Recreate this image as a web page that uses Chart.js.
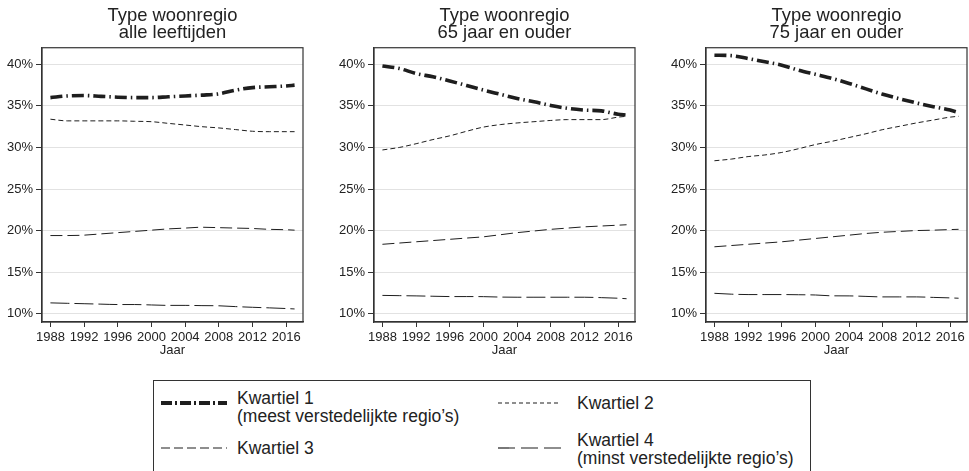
<!DOCTYPE html>
<html lang="nl">
<head>
<meta charset="UTF-8">
<title>Type woonregio</title>
<style>
    body { margin: 0; background: #fff; font-family: "Liberation Sans", Arial, sans-serif; color: #222; }
    #wrap { position: relative; width: 969px; height: 471px; overflow: hidden; }
    canvas { position: absolute; top: 0; }
    #legendBox { position: absolute; left: 153px; top: 380px; width: 658px; height: 110px; border: 1.2px solid #333; box-sizing: border-box; }
    .item { position: absolute; font-size: 17.5px; line-height: 18px; white-space: nowrap; color: #222; }
    .sample { position: absolute; }
</style>
</head>
<body>
<div id="wrap">
    <canvas id="c1" width="305" height="357" style="left:0px"></canvas>
    <canvas id="c2" width="305" height="357" style="left:332px"></canvas>
    <canvas id="c3" width="305" height="357" style="left:664px"></canvas>
    <div id="legendBox"></div>
</div>

<script src="https://cdn.jsdelivr.net/npm/chart.js"></script>
<script>
    // jaren en ticks
    const years = [1988, 1990, 1992, 1994, 1996, 1998, 2000, 2002, 2004, 2006, 2008, 2010, 2012, 2014, 2016, 2017];
    const xTicks = [1988, 1992, 1996, 2000, 2004, 2008, 2012, 2016];
    const yTicks = [10, 15, 20, 25, 30, 35, 40];

    const titles = [
        ['Type woonregio', 'alle leeftijden'],
        ['Type woonregio', '65 jaar en ouder'],
        ['Type woonregio', '75 jaar en ouder'],
    ];
    const xTitle = 'Jaar';

    const seriesNames = [
        ['Kwartiel 1', '(meest verstedelijkte regio’s)'],
        ['Kwartiel 2'],
        ['Kwartiel 3'],
        ['Kwartiel 4', '(minst verstedelijkte regio’s)'],
    ];

    // alle leeftijden
    const alleK1 = [36.0, 36.2, 36.25, 36.15, 36.05, 36.0, 36.0, 36.1, 36.2, 36.3, 36.45, 36.9, 37.2, 37.3, 37.4, 37.5];
    const alleK2 = [33.4, 33.2, 33.2, 33.2, 33.2, 33.15, 33.1, 32.9, 32.7, 32.5, 32.35, 32.15, 31.95, 31.9, 31.9, 31.9];
    const alleK3 = [19.4, 19.4, 19.45, 19.6, 19.75, 19.9, 20.05, 20.2, 20.3, 20.4, 20.35, 20.3, 20.25, 20.15, 20.1, 20.05];
    const alleK4 = [11.3, 11.25, 11.2, 11.15, 11.1, 11.1, 11.05, 11.0, 11.0, 10.97, 10.95, 10.85, 10.77, 10.7, 10.62, 10.57];

    // 65 jaar en ouder
    const o65K1 = [39.8, 39.5, 38.9, 38.5, 38.0, 37.45, 36.9, 36.4, 35.9, 35.5, 35.05, 34.7, 34.5, 34.4, 34.0, 33.9];
    const o65K2 = [29.7, 30.0, 30.45, 30.95, 31.4, 31.95, 32.45, 32.75, 32.95, 33.1, 33.25, 33.35, 33.35, 33.35, 33.65, 33.75];
    const o65K3 = [18.35, 18.5, 18.65, 18.8, 18.95, 19.1, 19.25, 19.5, 19.75, 19.95, 20.15, 20.3, 20.45, 20.55, 20.65, 20.7];
    const o65K4 = [12.2, 12.17, 12.14, 12.1, 12.06, 12.06, 12.05, 12.0, 11.98, 11.98, 11.98, 11.98, 11.98, 11.93, 11.86, 11.8];

    // 75 jaar en ouder
    const o75K1 = [41.1, 41.05, 40.7, 40.3, 39.9, 39.3, 38.8, 38.3, 37.7, 37.05, 36.4, 35.85, 35.35, 34.9, 34.5, 34.2];
    const o75K2 = [28.4, 28.6, 28.9, 29.1, 29.4, 29.85, 30.35, 30.75, 31.2, 31.65, 32.15, 32.55, 32.95, 33.3, 33.65, 33.75];
    const o75K3 = [18.05, 18.2, 18.35, 18.5, 18.65, 18.85, 19.05, 19.25, 19.45, 19.65, 19.8, 19.9, 20.0, 20.05, 20.12, 20.15];
    const o75K4 = [12.45, 12.35, 12.3, 12.3, 12.3, 12.28, 12.25, 12.15, 12.14, 12.08, 12.02, 12.02, 12.02, 11.96, 11.9, 11.86];

    const panels = [
        [alleK1, alleK2, alleK3, alleK4],
        [o65K1, o65K2, o65K3, o65K4],
        [o75K1, o75K2, o75K3, o75K4],
    ];

    // lijnstijlen
    const ink = '#1e1e1e';
    const lineStyles = [
        { width: 3.6, dash: [12, 4, 1.5, 4] },
        { width: 1, dash: [5, 3] },
        { width: 1, dash: [12, 5] },
        { width: 1, dash: [19, 5] },
    ];
    const legendStyles = [
        { width: 4, dash: [11, 3, 2, 3] },
        { width: 1.2, dash: [4, 3] },
        { width: 1.2, dash: [9, 4] },
        { width: 1.2, dash: [17, 6] },
    ];

    const framePlugin = {
        id: 'frame',
        afterDraw(chart) {
            const { ctx, chartArea: a } = chart;
            ctx.save();
            ctx.strokeStyle = '#333';
            ctx.lineWidth = 1.2;
            ctx.strokeRect(a.left, a.top, a.right - a.left, a.bottom - a.top);
            ctx.restore();
        }
    };

    const tickFont = { family: '"Liberation Sans", Arial, sans-serif', size: 13, lineHeight: 1 };

    panels.forEach((series, p) => {
        const datasets = series.map((vals, i) => ({
            label: seriesNames[i].join(' '),
            data: vals.map((v, j) => ({ x: years[j], y: v })),
            borderColor: ink,
            borderWidth: lineStyles[i].width,
            borderDash: lineStyles[i].dash,
            pointRadius: 0,
            cubicInterpolationMode: 'monotone',
            fill: false,
        }));

        new Chart(document.getElementById('c' + (p + 1)), {
            type: 'line',
            data: { datasets: datasets },
            options: {
                responsive: false,
                animation: false,
                events: [],
                layout: { padding: { left: 0, right: 2, top: 0, bottom: 0 } },
                scales: {
                    x: {
                        type: 'linear',
                        min: 1987,
                        max: 2018,
                        afterBuildTicks: s => { s.ticks = xTicks.map(v => ({ value: v })); },
                        afterFit: s => { s.height = 35; },
                        grid: { drawOnChartArea: false, drawTicks: true, tickLength: 5, tickColor: '#333', color: '#333' },
                        border: { display: true, color: '#333', width: 1.2 },
                        ticks: {
                            color: '#222',
                            font: tickFont,
                            padding: 4,
                            maxRotation: 0,
                            autoSkip: false,
                            callback: v => String(v),
                        },
                        title: { display: true, text: xTitle, color: '#222', font: tickFont, padding: { top: 0, bottom: 0 } },
                    },
                    y: {
                        min: 9,
                        max: 42,
                        afterBuildTicks: s => { s.ticks = yTicks.map(v => ({ value: v })); },
                        afterFit: s => { s.width = 42; },
                        grid: { color: '#e2e2e2', lineWidth: 1, tickLength: 6, tickColor: '#333' },
                        border: { display: true, color: '#333', width: 1.2 },
                        ticks: {
                            color: '#222',
                            font: tickFont,
                            padding: 3,
                            autoSkip: false,
                            callback: v => v + '%',
                        },
                    },
                },
                plugins: {
                    legend: { display: false },
                    tooltip: { enabled: false },
                    title: {
                        display: true,
                        text: titles[p],
                        color: '#222',
                        fullSize: false,
                        font: { family: '"Liberation Sans", Arial, sans-serif', size: 18.4, weight: 'normal', lineHeight: 0.93 },
                        padding: { top: 7.5, bottom: 6 },
                    },
                },
            },
            plugins: [framePlugin],
        });
    });

    // legenda
    const wrap = document.getElementById('wrap');
    const legendPos = [
        { sx: 161, sy: 403, sw: 66, tx: 237, ty: 388.5 },
        { sx: 498, sy: 403, sw: 63, tx: 577, ty: 394.2 },
        { sx: 161, sy: 448, sw: 66, tx: 237, ty: 438.7 },
        { sx: 498, sy: 448, sw: 63, tx: 577, ty: 431.2 },
    ];
    seriesNames.forEach((lines, i) => {
        const pos = legendPos[i];
        const st = legendStyles[i];
        const svgNS = 'http://www.w3.org/2000/svg';
        const svg = document.createElementNS(svgNS, 'svg');
        svg.setAttribute('class', 'sample');
        svg.setAttribute('width', pos.sw);
        svg.setAttribute('height', 10);
        svg.style.left = pos.sx + 'px';
        svg.style.top = (pos.sy - 5) + 'px';
        const ln = document.createElementNS(svgNS, 'line');
        ln.setAttribute('x1', 0);
        ln.setAttribute('y1', 5);
        ln.setAttribute('x2', pos.sw);
        ln.setAttribute('y2', 5);
        ln.setAttribute('stroke', ink);
        ln.setAttribute('stroke-width', st.width);
        ln.setAttribute('stroke-dasharray', st.dash.join(' '));
        svg.appendChild(ln);
        wrap.appendChild(svg);

        const div = document.createElement('div');
        div.className = 'item';
        div.style.left = pos.tx + 'px';
        div.style.top = pos.ty + 'px';
        div.innerHTML = lines.join('<br>');
        wrap.appendChild(div);
    });
</script>
</body>
</html>
